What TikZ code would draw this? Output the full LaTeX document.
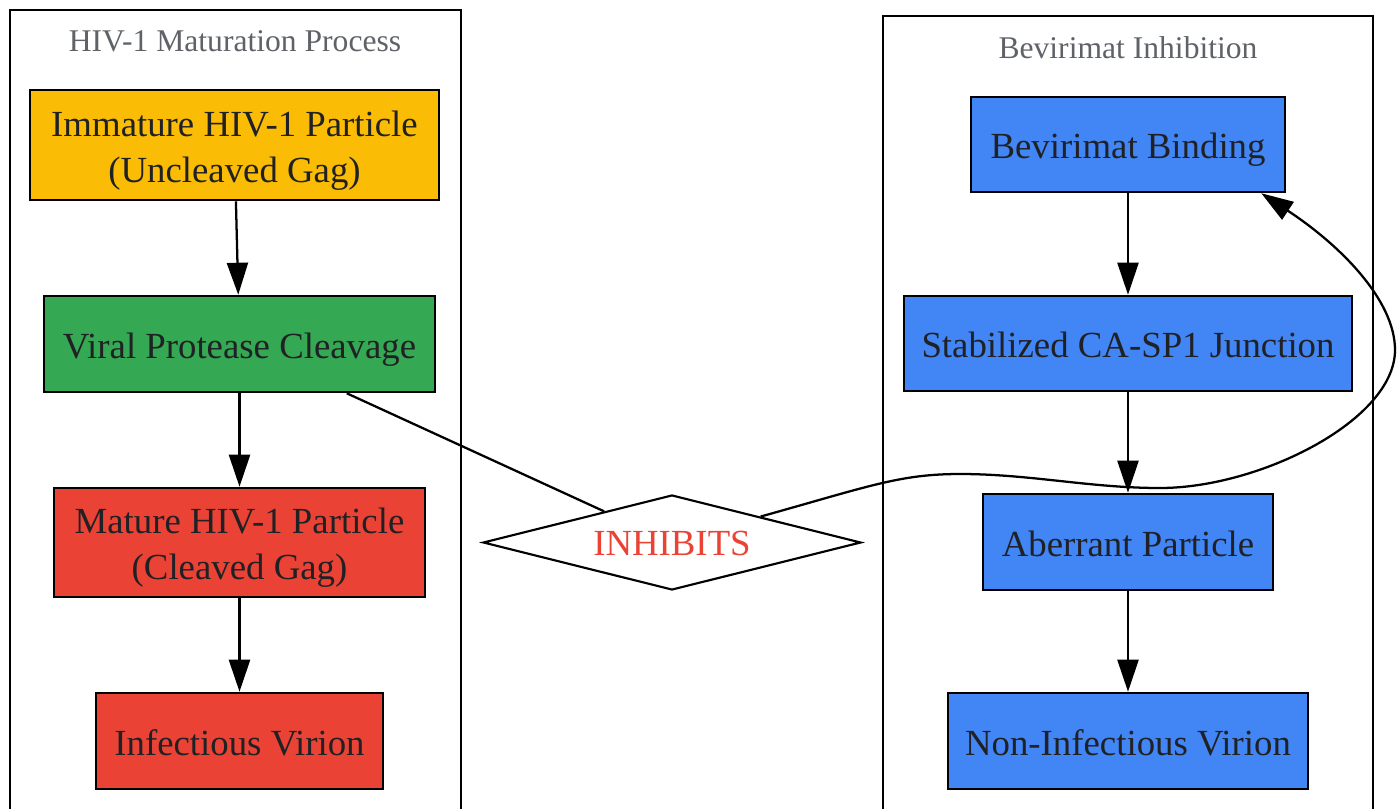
\documentclass[tikz,border=0pt]{standalone}
\usepackage{fontspec}
\setmainfont{Liberation Serif}
\usetikzlibrary{arrows.meta,shapes.geometric,calc}
\definecolor{cyellow}{HTML}{FBBC05}
\definecolor{cgreen}{HTML}{34A853}
\definecolor{cred}{HTML}{EA4335}
\definecolor{cblue}{HTML}{4285F4}
\definecolor{ctext}{HTML}{202124}
\definecolor{ctitle}{HTML}{5F6368}
\newcommand\mytop{\rule{0pt}{29.4pt}}
\newcommand\mybot{\rule[-8pt]{0pt}{8pt}}
\newcommand\mydtop{\rule{0pt}{26.8pt}}
\tikzset{
  box/.style={draw=black, line width=1.9pt, rectangle, inner sep=0pt, align=center,
    text=ctext, font=\fontsize{27.6}{34.5}\selectfont},
  dstyle/.style={draw=black, line width=1.6pt, diamond, shape aspect=4, inner sep=0pt,
    text=cred, font=\fontsize{27.6}{33}\selectfont, fill=white},
  cluster/.style={draw=black, line width=1.5pt},
  ctitlestyle/.style={text=ctitle, font=\fontsize{23.7}{28}\selectfont, inner sep=0pt},
  flow/.style={draw=black, line width=1.7pt, -{Triangle[length=24pt,width=15.75pt]}},
  plainline/.style={draw=black, line width=1.7pt},
}
\begin{document}
\begin{tikzpicture}[x=0.75pt,y=-0.75pt]
\useasboundingbox (0,0) rectangle (1399,808);
\fill[white] (0,0) rectangle (1399,808);
% clusters
\draw[cluster] (10,10) rectangle (461,820);
\draw[cluster] (883,16) rectangle (1373,820);
\node[ctitlestyle] (t1) at (235,41) {HIV-1 Maturation Process};
\node[ctitlestyle] (t2) at (1128,48) {Bevirimat Inhibition};
% left nodes
\node[box, fill=cyellow, minimum width=306.75pt, minimum height=82.5pt] (imm) at (234.5,145) {\mytop Immature HIV-1 Particle\\(Uncleaved Gag)\mybot};
\node[box, fill=cgreen, minimum width=293.25pt, minimum height=72pt] (viral) at (239.5,344) {\mytop Viral Protease Cleavage\mybot};
\node[box, fill=cred, minimum width=278.25pt, minimum height=81.75pt] (mature) at (239.5,542.5) {\mytop Mature HIV-1 Particle\\(Cleaved Gag)\mybot};
\node[box, fill=cred, minimum width=215.25pt, minimum height=72pt] (inf) at (239.5,741) {\mytop Infectious Virion\mybot};
% right nodes
\node[box, fill=cblue, minimum width=235.5pt, minimum height=71.25pt] (bev) at (1128,144.5) {\mytop Bevirimat Binding\mybot};
\node[box, fill=cblue, minimum width=336pt, minimum height=71.25pt] (stab) at (1128,343.5) {\mytop Stabilized CA-SP1 Junction\mybot};
\node[box, fill=cblue, minimum width=217.5pt, minimum height=72pt] (aber) at (1128,542) {\mytop Aberrant Particle\mybot};
\node[box, fill=cblue, minimum width=270pt, minimum height=72pt] (non) at (1128,741) {\mytop Non-Infectious Virion\mybot};
% diamond
\node[dstyle, minimum width=283.5pt, minimum height=71.25pt] (dia) at (672,542.5) {\mydtop INHIBITS\mybot};
% edges
\draw[flow] (imm) -- (viral);
\draw[flow] (viral) -- (mature);
\draw[flow] (mature) -- (inf);
\draw[flow] (bev) -- (stab);
\draw[flow] (stab) -- (aber);
\draw[flow] (aber) -- (non);
\draw[plainline] (viral) -- (dia);
\coordinate (bevend) at ($(bev.south east)+(-25,0)$);
\coordinate (dstart) at ($(dia.north)!0.466!(dia.east)$);
\draw[flow] (dstart) .. controls (870,486) and (900,474) .. (960,474)
  .. controls (1030,474) and (1090,488) .. (1160,488)
  .. controls (1260,488) and (1395,420) .. (1395,350)
  .. controls (1395,300) and (1340,245) .. (bevend);
\end{tikzpicture}
\end{document}
